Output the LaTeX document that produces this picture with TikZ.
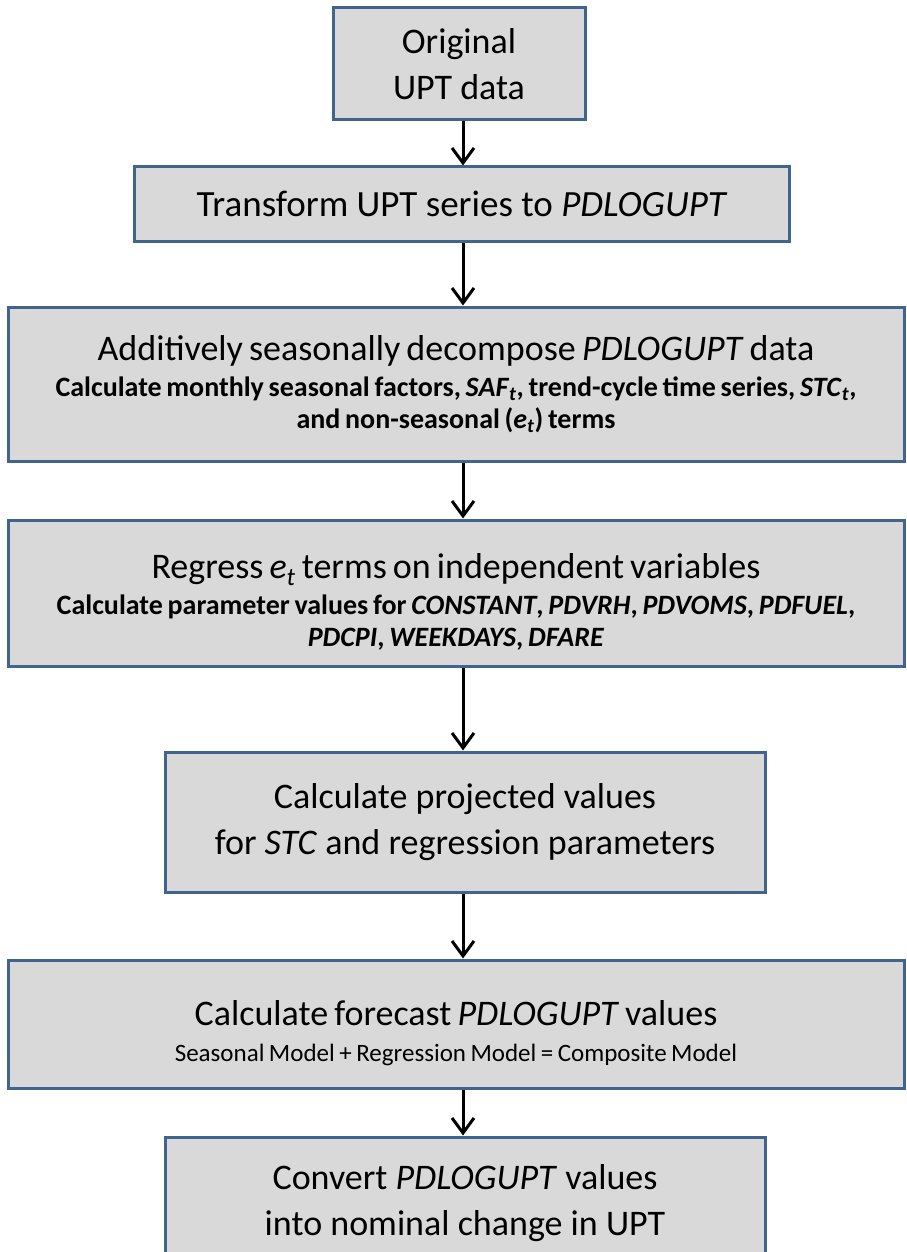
\documentclass[tikz,border=0pt]{standalone}
\usepackage{fontspec}
\setmainfont{Carlito}
\usetikzlibrary{arrows.meta}
\definecolor{boxfill}{HTML}{D9D9D9}
\definecolor{boxline}{HTML}{41648F}
\newcommand{\subt}[1]{\textsubscript{\textit{#1}}}
\newcommand{\ttl}[1]{{\fontsize{36}{40}\selectfont\spaceskip=0.17em\relax #1\par}\vskip4pt}
\newcommand{\subb}[1]{{\fontsize{28}{32}\selectfont\bfseries\spaceskip=0.17em\relax #1\par}}
\newcommand{\subr}[1]{{\fontsize{25}{32}\selectfont\spaceskip=0.18em\relax #1\par}}
\begin{document}
\begin{tikzpicture}[x=1pt,y=-1pt,
  box/.style={draw=boxline, line width=3pt, fill=boxfill, rectangle, inner sep=0pt, align=center},
  big/.style={font=\fontsize{36}{46}\selectfont},
  wide/.style={box, text width=890pt, minimum width=896pt},
  arr/.style={-{Straight Barb[length=15pt,width=22pt,line width=3pt]}, line width=3pt, draw=black}]
\useasboundingbox (0,0) rectangle (906,1252);
\coordinate (ax) at (463,0);
\node[box,big,minimum width=252pt,minimum height=112pt] (b1) at (459,64) {Original\\UPT data};
\node[box,font=\fontsize{37}{46}\selectfont,minimum width=655pt,minimum height=74pt] (b2) at (462,204) {Transform UPT series to \textit{PDLOGUPT}};
\node[wide,minimum height=154pt] (b3) at (456,384)
  {\ttl{Additively seasonally decompose \textit{PDLOGUPT} data}%
   \subb{Calculate monthly seasonal factors, \textit{SAF}\subt{t}, trend-cycle time series, \textit{STC}\subt{t},\\
   and non-seasonal (\textit{e}\subt{t}) terms}\vskip16pt};
\node[wide,minimum height=146pt] (b4) at (456,593)
  {\vskip2pt\ttl{Regress \textit{e}\subt{t} terms on independent variables}%
   \subb{Calculate parameter values for \textit{CONSTANT}, \textit{PDVRH}, \textit{PDVOMS}, \textit{PDFUEL},\\
   \textit{PDCPI}, \textit{WEEKDAYS}, \textit{DFARE}}};
\node[wide,minimum height=128pt] (b6) at (456,1024)
  {\vskip3pt\ttl{Calculate forecast \textit{PDLOGUPT} values}%
   \subr{Seasonal Model + Regression Model = Composite Model}};
\node[box,big,minimum width=600pt,minimum height=140pt] (b5) at (465,822) {Calculate projected values\\for \textit{STC} and regression parameters};
\node[box,big,minimum width=600pt,minimum height=132pt] (b7) at (465,1203) {Convert \textit{PDLOGUPT} values\\into nominal change in UPT};
\draw[arr] (b1.south -| ax) -- (b2.north -| ax);
\draw[arr] (b2.south -| ax) -- (b3.north -| ax);
\draw[arr] (b3.south -| ax) -- (b4.north -| ax);
\draw[arr] (b4.south -| ax) -- (b5.north -| ax);
\draw[arr] (b5.south -| ax) -- (b6.north -| ax);
\draw[arr] (b6.south -| ax) -- (b7.north -| ax);
\end{tikzpicture}
\end{document}
